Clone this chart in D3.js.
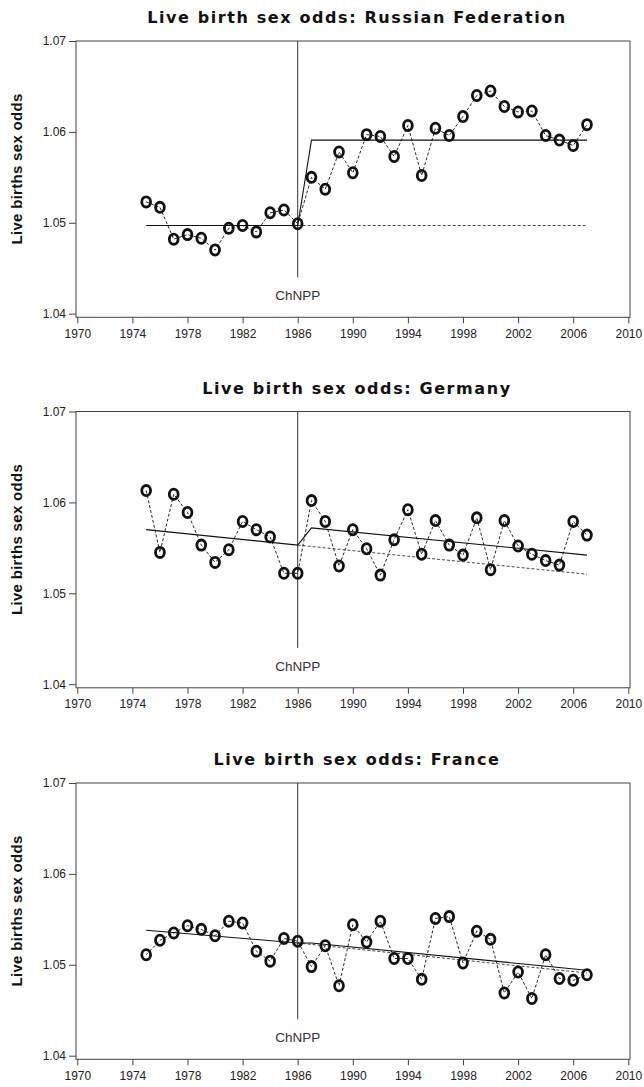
<!DOCTYPE html>
<html>
<head>
<meta charset="utf-8">
<script src="https://cdn.jsdelivr.net/npm/d3@7"></script>
<style>
  body { margin: 0; background: #fff; }
  text { font-family: "Liberation Sans", Arial, sans-serif; fill: #222; }
  .title { font-family: "DejaVu Sans", sans-serif; font-weight: bold; font-size: 16px; letter-spacing: 1.6px; fill: #111; }
  .ylab { font-weight: bold; font-size: 15px; letter-spacing: 0.3px; fill: #111; }
  .tick text { font-size: 12px; }
</style>
</head>
<body>
<svg width="644" height="1087"></svg>
<script>
const years = d3.range(1975, 2008);
const xTicks = [1970, 1974, 1978, 1982, 1986, 1990, 1994, 1998, 2002, 2006, 2010];
const yTicks = [1.04, 1.05, 1.06, 1.07];
const eventYear = 1986;

const titles = ["Live birth sex odds: Russian Federation", "Live birth sex odds: Germany", "Live birth sex odds: France"];

const russia = [1.0523, 1.0517, 1.0482, 1.0487, 1.0483, 1.0470, 1.0494, 1.0497, 1.0490, 1.0511, 1.0514, 1.0499,
    1.0550, 1.0537, 1.0578, 1.0555, 1.0597, 1.0595, 1.0573, 1.0607, 1.0552, 1.0604, 1.0596, 1.0617, 1.0640,
    1.0645, 1.0628, 1.0622, 1.0623, 1.0596, 1.0591, 1.0585, 1.0608];
const germany = [1.0613, 1.0545, 1.0609, 1.0589, 1.0553, 1.0534, 1.0548, 1.0579, 1.0570, 1.0562, 1.0522, 1.0522,
    1.0602, 1.0579, 1.0530, 1.0570, 1.0549, 1.0520, 1.0559, 1.0592, 1.0543, 1.0580, 1.0553, 1.0542, 1.0583,
    1.0526, 1.0580, 1.0552, 1.0543, 1.0536, 1.0531, 1.0579, 1.0564];
const france = [1.0511, 1.0527, 1.0535, 1.0543, 1.0539, 1.0532, 1.0548, 1.0546, 1.0515, 1.0504, 1.0529, 1.0526,
    1.0498, 1.0521, 1.0477, 1.0544, 1.0525, 1.0548, 1.0507, 1.0507, 1.0484, 1.0551, 1.0553, 1.0502, 1.0537,
    1.0528, 1.0469, 1.0492, 1.0463, 1.0511, 1.0485, 1.0483, 1.0489];

// fitted trend (solid) and counterfactual (dashed), as [year, value]
const russiaFit = [[1975, 1.0497], [1986, 1.0497], [1987, 1.0591], [2007, 1.0591]];
const russiaBase = [[1986, 1.0497], [2007, 1.0497]];
const germanyFit = [[1975, 1.0570], [1986, 1.0553], [1987, 1.0572], [2007, 1.0542]];
const germanyBase = [[1986, 1.0553], [2007, 1.0521]];
const franceFit = [[1975, 1.0538], [1986, 1.0524], [1987, 1.0524], [2007, 1.0494]];
const franceBase = [[1986, 1.0524], [2007, 1.0491]];

const panels = [
    { title: titles[0], values: russia, fit: russiaFit, base: russiaBase, top: 41 },
    { title: titles[1], values: germany, fit: germanyFit, base: germanyBase, top: 411.5 },
    { title: titles[2], values: france, fit: franceFit, base: franceBase, top: 783 },
];

const svg = d3.select("svg");
const box = { left: 76, right: 630, height: 276.3 };

const x = d3.scaleLinear().domain([1970, 2010]).range([77.3, 628.3]);
const y = d3.scaleLinear().domain([1.04, 1.07]).range([272.7, 0]);

const line = d3.line()
    .x(d => x(d[0]))
    .y(d => y(d[1]));

panels.forEach(p => {
    const g = svg.append("g").attr("transform", `translate(0,${p.top})`);

    g.append("text")
        .attr("class", "title")
        .attr("x", 357)
        .attr("y", -18)
        .attr("text-anchor", "middle")
        .text(p.title);

    g.append("rect")
        .attr("x", box.left)
        .attr("y", 0)
        .attr("width", box.right - box.left)
        .attr("height", box.height)
        .attr("fill", "none")
        .attr("stroke", "#444")
        .attr("stroke-width", 1);

    const yAxis = g.append("g")
        .attr("class", "tick")
        .attr("transform", `translate(${box.left},0)`)
        .call(d3.axisLeft(y).tickValues(yTicks).tickFormat(d3.format(".2f")).tickSize(7).tickPadding(3));
    yAxis.select(".domain").remove();
    yAxis.selectAll("line").attr("stroke", "#444");

    const xAxis = g.append("g")
        .attr("class", "tick")
        .attr("transform", `translate(0,${box.height})`)
        .call(d3.axisBottom(x).tickValues(xTicks).tickFormat(d3.format("d")).tickSize(6).tickPadding(6));
    xAxis.select(".domain").remove();
    xAxis.selectAll("line").attr("stroke", "#444");

    g.append("text")
        .attr("class", "ylab")
        .attr("transform", `translate(22,128) rotate(-90)`)
        .attr("text-anchor", "middle")
        .text("Live births sex odds");

    // Chernobyl marker
    g.append("line")
        .attr("x1", x(eventYear)).attr("x2", x(eventYear))
        .attr("y1", y(1.07)).attr("y2", y(1.044))
        .attr("stroke", "#333")
        .attr("stroke-width", 1);
    g.append("text")
        .attr("x", x(eventYear))
        .attr("y", y(1.0415))
        .attr("text-anchor", "middle")
        .style("font-size", "13.5px")
        .style("fill", "#333")
        .text("ChNPP");

    g.append("path")
        .datum(p.base)
        .attr("d", line)
        .attr("fill", "none")
        .attr("stroke", "#333")
        .attr("stroke-width", 0.9)
        .attr("stroke-dasharray", "3,2");

    g.append("path")
        .datum(p.fit)
        .attr("d", line)
        .attr("fill", "none")
        .attr("stroke", "#111")
        .attr("stroke-width", 1.1);

    const pts = years.map((yr, i) => [yr, p.values[i]]);

    g.append("path")
        .datum(pts)
        .attr("d", line)
        .attr("fill", "none")
        .attr("stroke", "#111")
        .attr("stroke-width", 0.9)
        .attr("stroke-dasharray", "3,2");

    g.selectAll("ellipse")
        .data(pts)
        .enter().append("ellipse")
        .attr("cx", d => x(d[0]))
        .attr("cy", d => y(d[1]))
        .attr("rx", 4.4)
        .attr("ry", 5.1)
        .attr("fill", "none")
        .attr("stroke", "#111")
        .attr("stroke-width", 2.8);
});
</script>
</body>
</html>
